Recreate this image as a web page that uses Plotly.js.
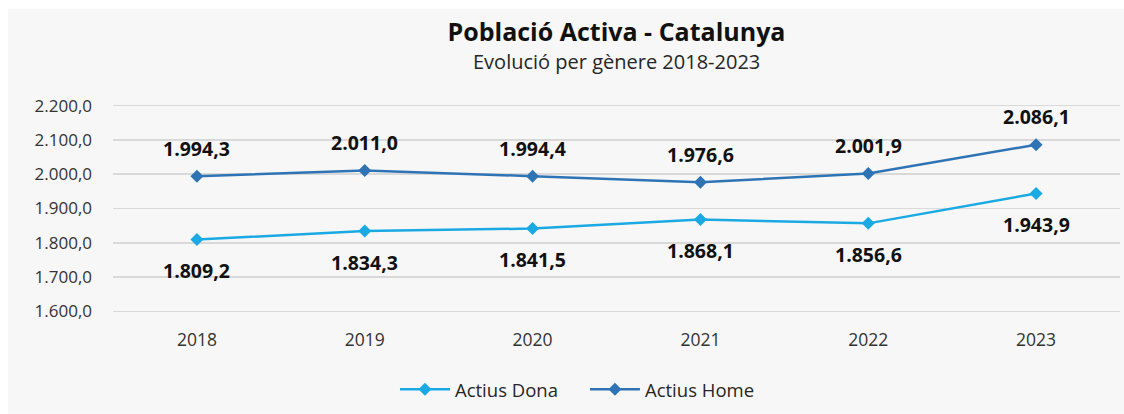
<!DOCTYPE html>
<html>
<head>
<meta charset="utf-8">
<script src="https://cdn.plot.ly/plotly-3.0.1.min.js"></script>
<style>
html,body{margin:0;padding:0;background:#ffffff;}
#chart{width:1124px;height:414px;}
</style>
</head>
<body>
<div id="chart"></div>
<script>
var years = ['2018', '2019', '2020', '2021', '2022', '2023'];
var actiusDona = [1809.2, 1834.3, 1841.5, 1868.1, 1856.6, 1943.9];
var actiusHome = [1994.3, 2011.0, 1994.4, 1976.6, 2001.9, 2086.1];
var yTicks = [1600, 1700, 1800, 1900, 2000, 2100, 2200];

var FONT = '"Open Sans", "Noto Sans", sans-serif';
var colDona = '#1aa9e3';
var colHome = '#2e74b5';

var xIdx = years.map(function (_, i) { return i; });

function fmt(v) {
  var parts = v.toFixed(1).split('.');
  var intPart = parts[0].replace(/\B(?=(\d{3})+(?!\d))/g, '.');
  return intPart + ',' + parts[1];
}

var traces = [
  {
    x: xIdx, y: actiusDona, name: 'Actius Dona', type: 'scatter', mode: 'lines+markers',
    line: {color: colDona, width: 2.5},
    marker: {symbol: 'diamond', size: 10, color: colDona},
    hoverinfo: 'skip'
  },
  {
    x: xIdx, y: actiusHome, name: 'Actius Home', type: 'scatter', mode: 'lines+markers',
    line: {color: colHome, width: 2.5},
    marker: {symbol: 'diamond', size: 10, color: colHome},
    hoverinfo: 'skip'
  }
];

// plot geometry: 2200 at y=106px, 1600 at y=311.5px -> 0.3425 px per unit
var PX = 205.5 / 600;
var yLo = 1595, yHi = 2205;
var mTop = 106 - (yHi - 2200) * PX;
var plotH = (yHi - yLo) * PX;
var mBot = 414 - mTop - plotH;
var plotBottomPx = mTop + plotH;

var annotations = [];
xIdx.forEach(function (xi, i) {
  annotations.push({
    x: xi, y: actiusHome[i], xref: 'x', yref: 'y', text: fmt(actiusHome[i]),
    showarrow: false, yshift: 28,
    font: {family: FONT, size: 19.5, color: '#111111', weight: 'bold'}
  });
  annotations.push({
    x: xi, y: actiusDona[i], xref: 'x', yref: 'y', text: fmt(actiusDona[i]),
    showarrow: false, yshift: -31,
    font: {family: FONT, size: 19.5, color: '#111111', weight: 'bold'}
  });
});
annotations.push({
  xref: 'paper', yref: 'paper', x: 0.5, y: (plotBottomPx - 62) / plotH, yanchor: 'middle',
  text: 'Evolució per gènere 2018-2023', showarrow: false,
  font: {family: FONT, size: 20, color: '#262626'}
});

var layout = {
  width: 1124, height: 414,
  paper_bgcolor: '#ffffff',
  plot_bgcolor: 'rgba(0,0,0,0)',
  separators: ',.',
  margin: {l: 113, r: 4, t: mTop, b: mBot},
  showlegend: true,
  title: {
    text: '<b>Població Activa - Catalunya</b>',
    x: 0.5, xref: 'paper', xanchor: 'center',
    y: 1 - 32 / 414, yref: 'container', yanchor: 'middle',
    font: {family: FONT, size: 25, color: '#111111'}
  },
  xaxis: {
    type: 'linear', range: [-0.5, 5.5],
    tickvals: xIdx, ticktext: years,
    showgrid: false, zeroline: false, showline: false,
    ticks: '', ticklabelstandoff: 14,
    tickfont: {family: FONT, size: 17.5, color: '#333333'},
    fixedrange: true
  },
  yaxis: {
    range: [yLo, yHi], tickvals: yTicks, tickformat: ',.1f',
    showgrid: true, gridcolor: '#d9d9d9', gridwidth: 1.5,
    zeroline: false, showline: false, ticks: '', ticklabelstandoff: 20,
    tickfont: {family: FONT, size: 17, color: '#333333'},
    fixedrange: true
  },
  legend: {
    orientation: 'h', x: 0.280, xanchor: 'left',
    y: (plotBottomPx - 390) / plotH, yanchor: 'middle',
    font: {family: FONT, size: 18.5, color: '#262626'},
    bgcolor: 'rgba(0,0,0,0)', tracegroupgap: 0,
    itemwidth: 50, entrywidth: 125, entrywidthmode: 'pixels'
  },
  shapes: [
    {type: 'rect', xref: 'paper', yref: 'paper',
     x0: (8 - 113) / 1007, x1: (1124 - 113) / 1007,
     y0: (plotBottomPx - 414) / plotH, y1: (plotBottomPx - 9) / plotH,
     fillcolor: '#f7f7f7', line: {width: 0}, layer: 'below'}
  ],
  annotations: annotations
};

Plotly.newPlot('chart', traces, layout, {displayModeBar: false, staticPlot: true});
</script>
</body>
</html>
